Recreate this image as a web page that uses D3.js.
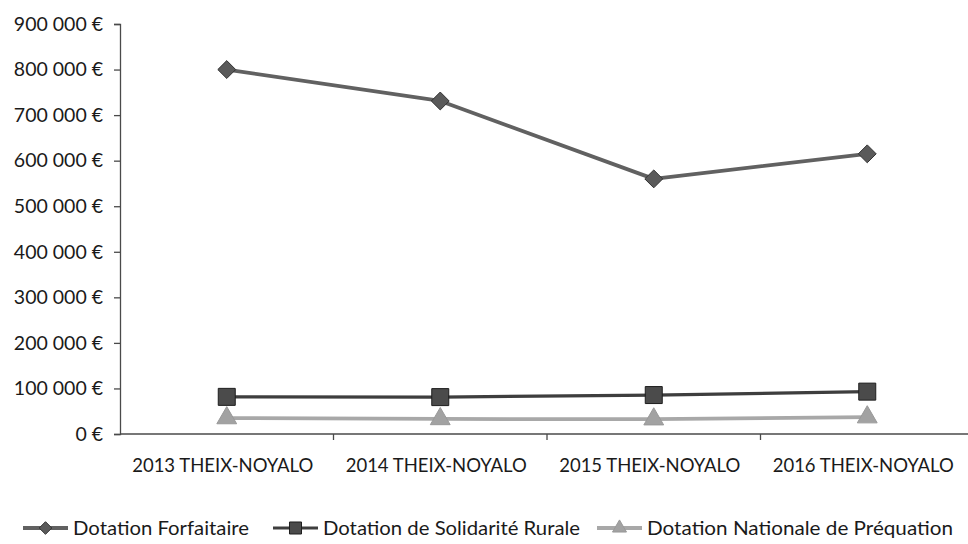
<!DOCTYPE html>
<html>
<head>
<meta charset="utf-8">
<script src="https://cdn.jsdelivr.net/npm/d3@7/dist/d3.min.js"></script>
<style>
  html, body { margin: 0; padding: 0; background: #fff; }
  svg text { font-family: Lato, "Open Sans", "DejaVu Sans", sans-serif; fill: #1a1a1a; }
</style>
</head>
<body>
<svg id="chart" width="968" height="544"></svg>
<script>
// Dotations de l'État — Theix-Noyalo, 2013-2016
const categories = ["2013 THEIX-NOYALO", "2014 THEIX-NOYALO", "2015 THEIX-NOYALO", "2016 THEIX-NOYALO"];
const dotationForfaitaire = [800000, 731000, 560000, 615000];
const dotationSolidariteRurale = [81500, 81000, 85500, 93000];
const dotationPerequation = [35000, 33000, 32500, 37000];
const seriesNames = ["Dotation Forfaitaire", "Dotation de Solidarité Rurale", "Dotation Nationale de Préquation"];
const yTicks = [0, 100000, 200000, 300000, 400000, 500000, 600000, 700000, 800000, 900000];

// Diamond drawn as a square rotated by 45°, as wide as it is tall
const symbolRhombus = {
  draw(context, size) {
    const r = Math.sqrt(size) / 2;
    context.moveTo(0, -r);
    context.lineTo(r, 0);
    context.lineTo(0, r);
    context.lineTo(-r, 0);
    context.closePath();
  }
};

const series = [
  { name: seriesNames[0], values: dotationForfaitaire, line: "#616161", width: 3.8, symbol: symbolRhombus, size: 320, fill: "#5a5a5a", stroke: "#333" },
  { name: seriesNames[1], values: dotationSolidariteRurale, line: "#3e3e3e", width: 3.2, symbol: d3.symbolSquare, size: 289, fill: "#4b4b4b", stroke: "#1e1e1e" },
  { name: seriesNames[2], values: dotationPerequation, line: "#a8a8a8", width: 3.8, symbol: d3.symbolTriangle, size: 170, fill: "#a2a2a2", stroke: "#999" }
];

const svg = d3.select("#chart");
const plotLeft = 120, plotRight = 974, plotTop = 24, plotBottom = 434;

const x = d3.scaleBand().domain(categories).range([plotLeft, plotRight]).paddingInner(0).paddingOuter(0);
const y = d3.scaleLinear().domain([0, 900000]).range([plotBottom, plotTop]);

const fmt = v => d3.format(",")(v).replace(/,/g, "\u00A0") + "\u00A0€";

// Y axis
const yAxis = svg.append("g").attr("transform", `translate(${plotLeft},0)`)
  .call(d3.axisLeft(y).tickValues(yTicks).tickSize(6).tickPadding(11).tickFormat(fmt));
yAxis.select(".domain").attr("stroke", "#4a4a4a").attr("stroke-width", 1.3);
yAxis.selectAll(".tick line").attr("stroke", "#4a4a4a").attr("stroke-width", 1.3);
yAxis.selectAll(".tick text").style("font-size", "19.5px").attr("fill", "#1a1a1a");

// X axis: line across the plot, ticks between categories
svg.append("line").attr("x1", plotLeft).attr("x2", 968).attr("y1", plotBottom).attr("y2", plotBottom)
  .attr("stroke", "#4a4a4a").attr("stroke-width", 1.3);
svg.selectAll(".xtick").data(categories.slice(1)).enter().append("line")
  .attr("x1", d => x(d)).attr("x2", d => x(d))
  .attr("y1", plotBottom).attr("y2", plotBottom + 6)
  .attr("stroke", "#4a4a4a").attr("stroke-width", 1.3);
svg.selectAll(".xlabel").data(categories).enter().append("text")
  .attr("x", d => x(d) + x.bandwidth() / 2 - 4)
  .attr("y", 472)
  .attr("text-anchor", "middle")
  .style("font-size", "18.5px")
  .text(d => d);

const cx = i => x(categories[i]) + x.bandwidth() / 2;

// Lines and markers
series.forEach(s => {
  const line = d3.line().x((d, i) => cx(i)).y(d => y(d));
  svg.append("path").datum(s.values)
    .attr("d", line).attr("fill", "none")
    .attr("stroke", s.line).attr("stroke-width", s.width).attr("stroke-linejoin", "round");
  svg.selectAll(null).data(s.values).enter().append("path")
    .attr("d", d3.symbol().type(s.symbol).size(s.size))
    .attr("transform", (d, i) => `translate(${cx(i)},${y(d)})`)
    .attr("fill", s.fill).attr("stroke", s.stroke).attr("stroke-width", 1);
});

// Legend
const legendY = 528;
const legendX = [23, 273, 597];
const legendTextWidth = [176, 257, 306];
series.forEach((s, i) => {
  const g = svg.append("g").attr("transform", `translate(${legendX[i]},${legendY})`);
  g.append("line").attr("x1", 0).attr("x2", 45).attr("y1", 0).attr("y2", 0)
    .attr("stroke", s.line).attr("stroke-width", s.width);
  g.append("path").attr("d", d3.symbol().type(s.symbol).size(s.size * 0.5))
    .attr("transform", "translate(22.5,0)")
    .attr("fill", s.fill).attr("stroke", s.stroke).attr("stroke-width", 1);
  g.append("text").attr("x", 50).attr("y", 7)
    .style("font-size", "20px")
    .attr("textLength", legendTextWidth[i]).attr("lengthAdjust", "spacingAndGlyphs")
    .text(s.name);
});
</script>
</body>
</html>
